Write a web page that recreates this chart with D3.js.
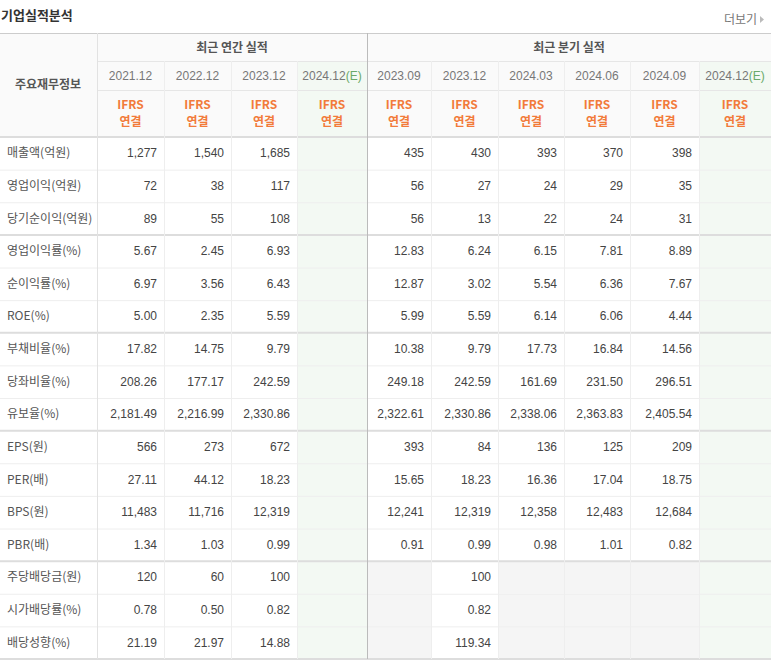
<!DOCTYPE html><html><head><meta charset="utf-8">
<script src="https://cdn.jsdelivr.net/npm/d3@7"></script>
<style>body{margin:0;background:#fff;font-family:"Noto Sans CJK KR","Noto Sans",sans-serif}</style></head><body><svg id="c" width="773" height="661"></svg>
<script>
const periods=["2021.12","2022.12","2023.12","2024.12","2023.09","2023.12","2024.03","2024.06","2024.09","2024.12"];
const estimate=[false,false,false,true,false,false,false,false,false,true];
const rowLabels=["매출액(억원)","영업이익(억원)","당기순이익(억원)","영업이익률(%)","순이익률(%)","ROE(%)","부채비율(%)","당좌비율(%)","유보율(%)","EPS(원)","PER(배)","BPS(원)","PBR(배)","주당배당금(원)","시가배당률(%)","배당성향(%)"];
const values=[
["1,277","1,540","1,685","","435","430","393","370","398",""],
["72","38","117","","56","27","24","29","35",""],
["89","55","108","","56","13","22","24","31",""],
["5.67","2.45","6.93","","12.83","6.24","6.15","7.81","8.89",""],
["6.97","3.56","6.43","","12.87","3.02","5.54","6.36","7.67",""],
["5.00","2.35","5.59","","5.99","5.59","6.14","6.06","4.44",""],
["17.82","14.75","9.79","","10.38","9.79","17.73","16.84","14.56",""],
["208.26","177.17","242.59","","249.18","242.59","161.69","231.50","296.51",""],
["2,181.49","2,216.99","2,330.86","","2,322.61","2,330.86","2,338.06","2,363.83","2,405.54",""],
["566","273","672","","393","84","136","125","209",""],
["27.11","44.12","18.23","","15.65","18.23","16.36","17.04","18.75",""],
["11,483","11,716","12,319","","12,241","12,319","12,358","12,483","12,684",""],
["1.34","1.03","0.99","","0.91","0.99","0.98","1.01","0.82",""],
["120","60","100","","","100","","","",""],
["0.78","0.50","0.82","","","0.82","","","",""],
["21.19","21.97","14.88","","","119.34","","","",""]];
const groups=["최근 연간 실적","최근 분기 실적"];
const groupBreaks=[3,6,9,13];

const svg=d3.select("#c");
const colEdges=[0,97,164,231,297,367,431,498,564,630,699,771];
const x=i=>colEdges[i+1], w=i=>colEdges[i+2]-colEdges[i+1];
const T=33,h1=28,h2=29,h3=47,bodyTop=T+h1+h2+h3;
const y=d3.scaleBand().domain(d3.range(rowLabels.length)).range([bodyTop,659]);

svg.append("text").attr("x",1).attr("y",20).text("기업실적분석").attr("font-size",13).attr("font-weight",700).attr("fill","#333");
svg.append("text").attr("x",757).attr("y",24).attr("text-anchor","end").text("더보기").attr("font-size",12).attr("fill","#777");
svg.append("path").attr("d","M760,16 l4,3.5 l-4,3.5z").attr("fill","#bbb");

svg.append("rect").attr("x",0).attr("y",T).attr("width",771).attr("height",bodyTop-T).attr("fill","#fafafa");
periods.forEach((p,i)=>{ if(estimate[i]) svg.append("rect").attr("x",x(i)).attr("y",T+h1).attr("width",w(i)).attr("height",659-T-h1).attr("fill","#f3f9f3");});
values.forEach((r,ri)=>{ if(ri>=13) r.forEach((v,ci)=>{ if(ci>=4&&!estimate[ci]&&v==="") svg.append("rect").attr("x",x(ci)).attr("y",y(ri)).attr("width",w(ci)).attr("height",y.bandwidth()).attr("fill","#f5f5f5");});});

const L=(x1,y1,x2,y2,c,sw)=>svg.append("line").attr("x1",x1).attr("y1",y1).attr("x2",x2).attr("y2",y2).attr("stroke",c).attr("stroke-width",sw||1);
L(0,T+0.5,771,T+0.5,"#ccc");
L(97,T+h1+0.5,771,T+h1+0.5,"#e6e6e6");
L(97,T+h1+h2+0.5,771,T+h1+h2+0.5,"#e6e6e6");
L(0,bodyTop,771,bodyTop,"#ddd",2);
rowLabels.forEach((r,i)=>{ if(i>0){ const br=groupBreaks.includes(i); L(0,y(i)+(br?0:0.5),771,y(i)+(br?0:0.5),br?"#ddd":"#eee",br?2:1);} });
L(0,659,771,659,"#ddd",2);
L(97.5,T,97.5,659,"#e2e2e2");
L(367.5,T,367.5,659,"#bbb");
periods.forEach((p,i)=>{ if(i!==0&&i!==4) L(x(i)+0.5,T+h1,x(i)+0.5,659,"#eee");});

svg.append("text").attr("x",48).attr("y",T+(bodyTop-T)/2+4).attr("text-anchor","middle").text("주요재무정보").attr("font-size",12).attr("font-weight",700).attr("fill","#555");
groups.forEach((g,gi)=>{const a=gi?367:97,b=gi?771:367;svg.append("text").attr("x",(a+b)/2).attr("y",T+19).attr("text-anchor","middle").text(g).attr("font-size",12).attr("font-weight",700).attr("fill","#555");});
periods.forEach((p,i)=>{
  const cx=x(i)+w(i)/2;
  const t=svg.append("text").attr("x",cx).attr("y",T+h1+19).attr("text-anchor","middle").attr("font-size",12).attr("fill","#777").attr("font-family","Liberation Sans").text(p);
  if(estimate[i]) t.append("tspan").attr("fill","#6aa96a").text("(E)");
  svg.append("text").attr("x",cx).attr("y",T+h1+h2+19).attr("text-anchor","middle").text("IFRS").attr("font-size",12).attr("font-weight",700).attr("fill","#f27b3a");
  svg.append("text").attr("x",cx).attr("y",T+h1+h2+36).attr("text-anchor","middle").text("연결").attr("font-size",12).attr("font-weight",700).attr("fill","#f27b3a");
});
rowLabels.forEach((r,ri)=>{
  const cy=y(ri)+y.bandwidth()/2+4;
  svg.append("text").attr("x",7).attr("y",cy).text(r).attr("font-size",12).attr("fill","#555");
  values[ri].forEach((v,ci)=>{ if(v) svg.append("text").attr("x",x(ci)+w(ci)-7).attr("y",cy).attr("text-anchor","end").text(v).attr("font-size",12).attr("fill","#444").attr("font-family","Liberation Sans Narrow, Liberation Sans");});
});
</script></body></html>
